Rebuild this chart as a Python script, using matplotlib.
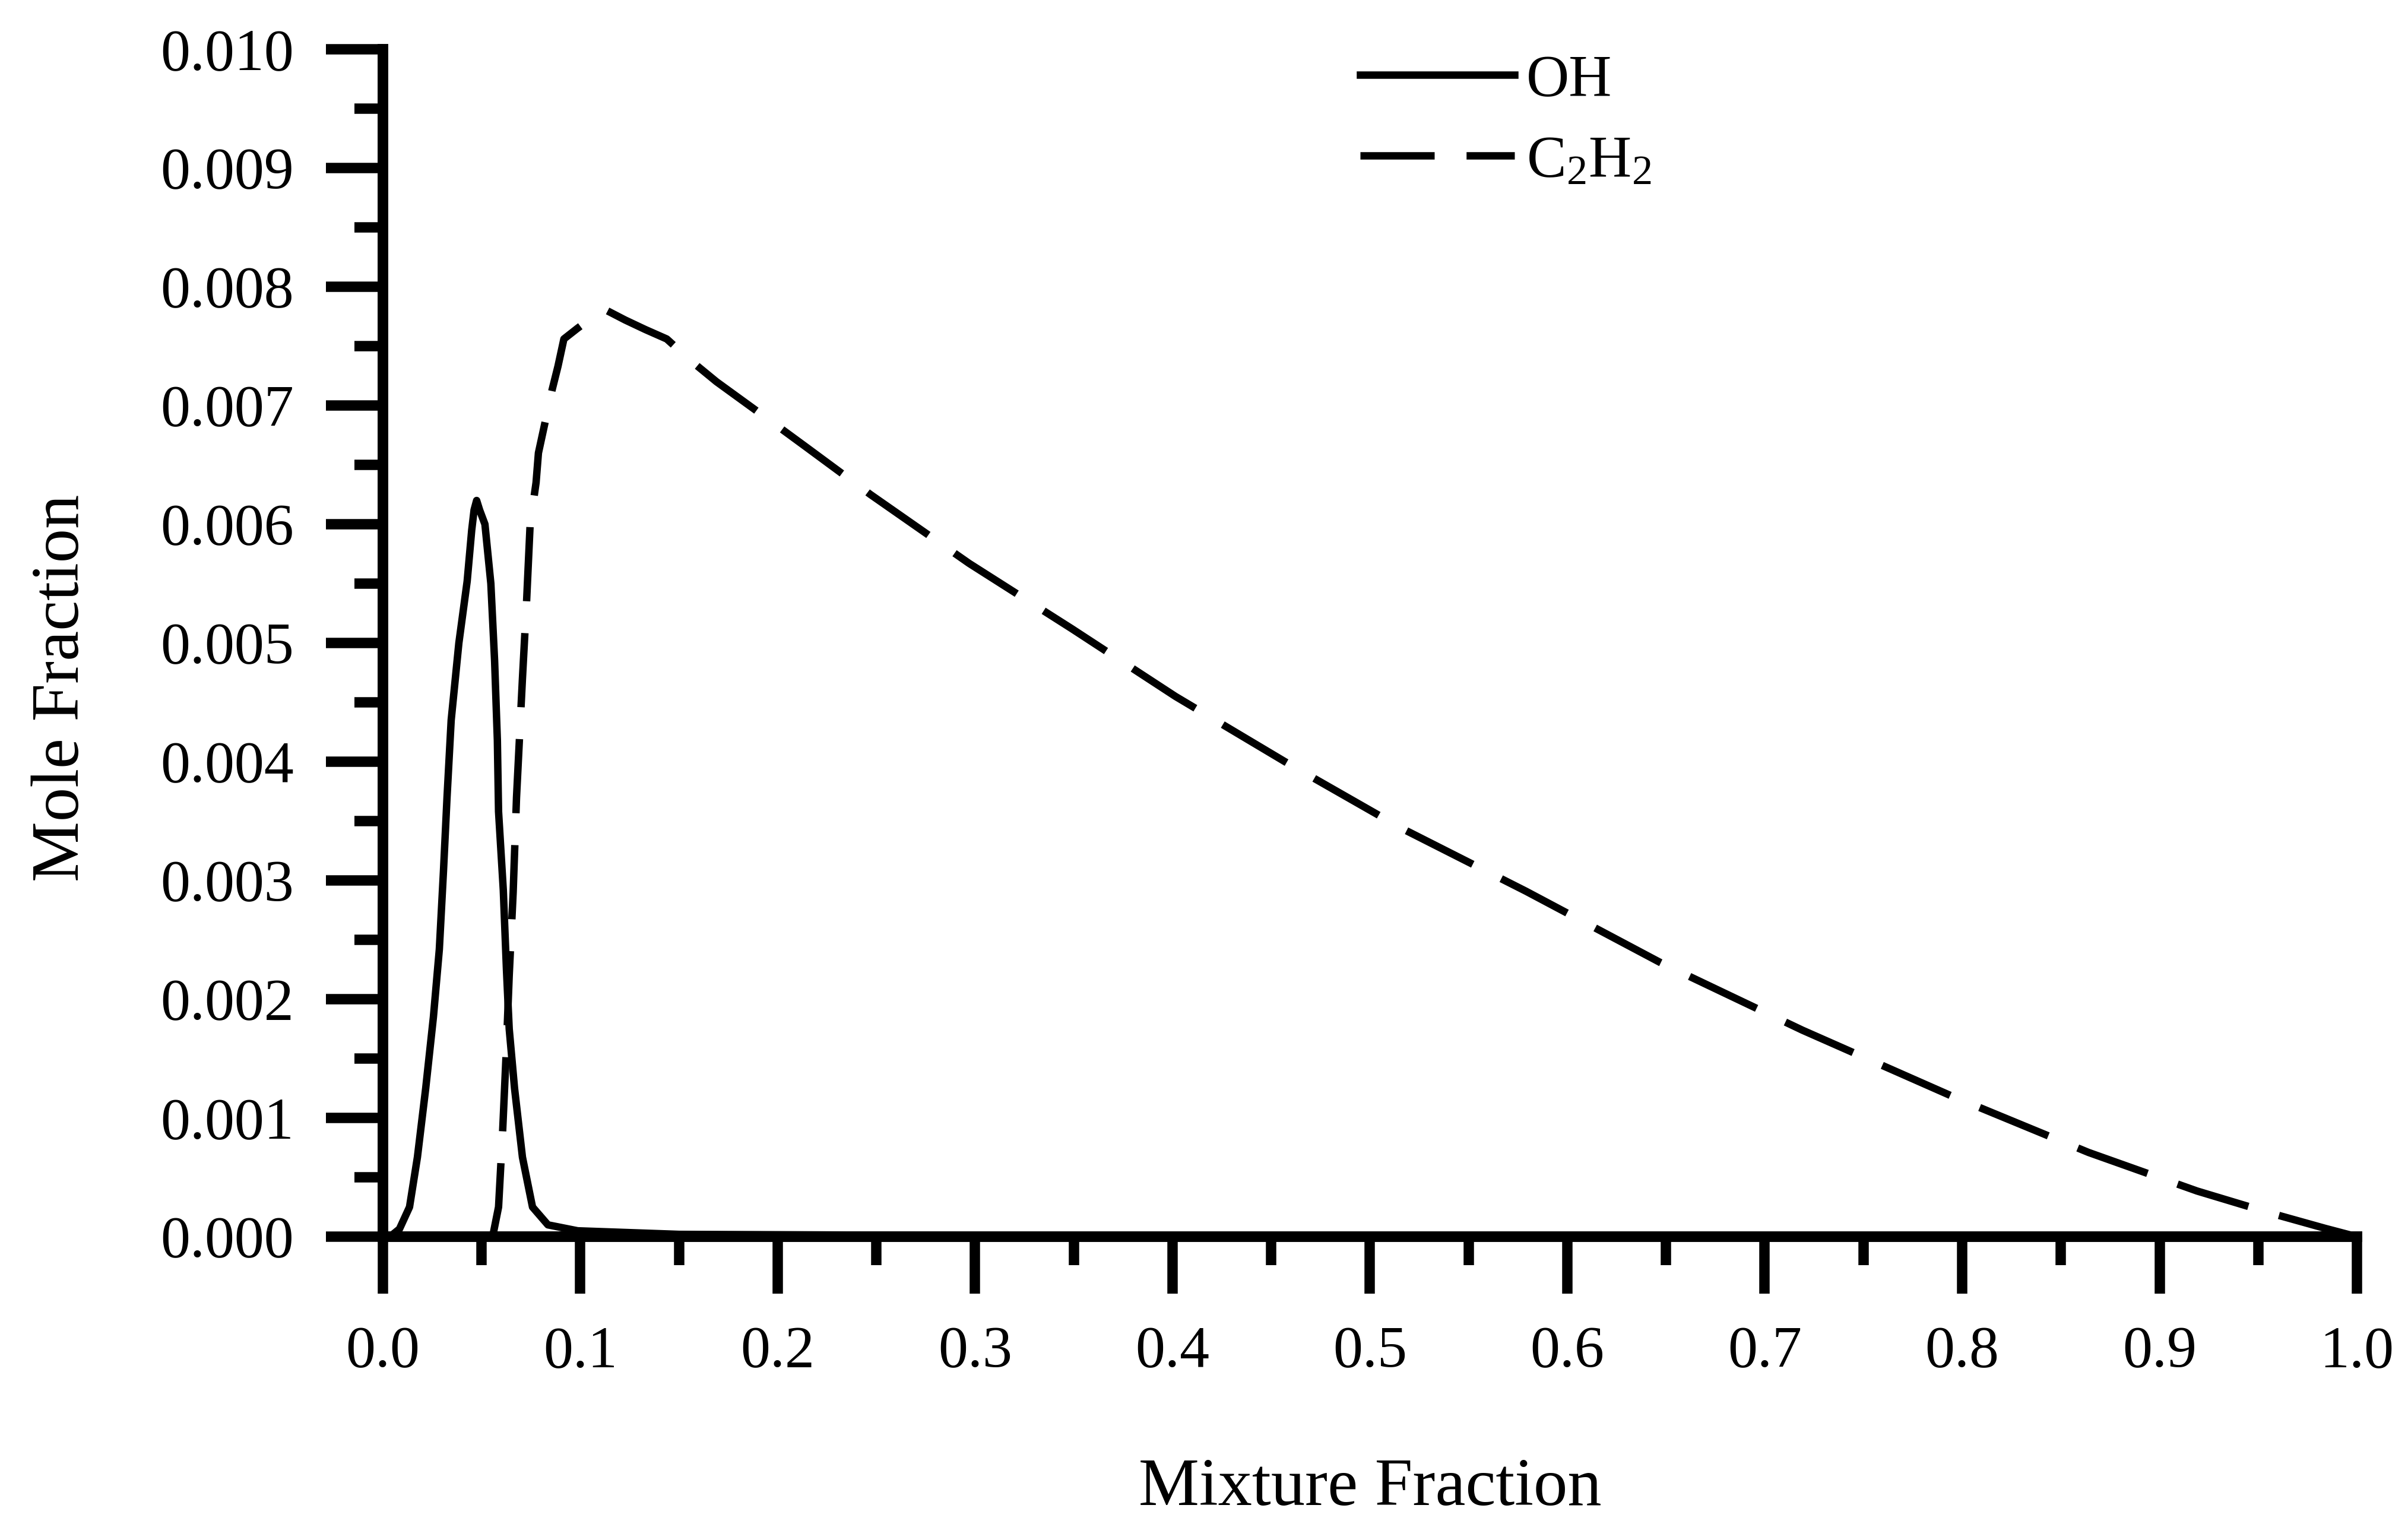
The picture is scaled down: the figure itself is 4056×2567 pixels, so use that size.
import matplotlib
matplotlib.use('Agg')
import matplotlib.pyplot as plt
from matplotlib.ticker import MultipleLocator, FormatStrFormatter

plt.rcParams['font.family'] = ['Liberation Serif', 'DejaVu Serif']
plt.rcParams['mathtext.fontset'] = 'custom'
plt.rcParams['mathtext.rm'] = 'Liberation Serif'

# OH mole fraction vs mixture fraction
oh_x = [0.0, 0.0036, 0.0084, 0.0135, 0.0175, 0.0217, 0.0256, 0.0286, 0.0307,
        0.0325, 0.0346, 0.0385, 0.0427, 0.045, 0.0462, 0.0475, 0.049, 0.0517,
        0.0547, 0.0566, 0.058, 0.0586, 0.061, 0.0626, 0.064, 0.0667, 0.0707,
        0.0758, 0.0836, 0.0987, 0.15, 0.3, 0.6, 1.0]
oh_y = [0.0, 0.0, 0.065, 0.25, 0.67, 1.25, 1.85, 2.42, 3.08,
        3.7, 4.35, 5.0, 5.52, 5.95, 6.12, 6.2, 6.12, 6.0,
        5.5, 4.85, 4.18, 3.58, 2.92, 2.25, 1.75, 1.25, 0.67,
        0.25, 0.1, 0.05, 0.02, 0.01, 0.0, 0.0]

# C2H2 mole fraction
c2h2_x = [0.0556, 0.0586, 0.0607, 0.0626, 0.064, 0.066, 0.0677, 0.0707, 0.0728,
          0.0746, 0.0776, 0.0788, 0.0857, 0.0887, 0.0917, 0.0986, 0.1059, 0.1134,
          0.1227, 0.1329, 0.1438, 0.1558, 0.169, 0.198, 0.2144, 0.247, 0.297,
          0.349, 0.4015, 0.457, 0.516, 0.579, 0.647, 0.719, 0.794, 0.864, 0.919,
          0.956, 0.984, 1.0]
c2h2_y = [0.0, 0.25, 0.9, 1.6, 2.2, 2.9, 3.7, 4.7, 5.35,
          6.0, 6.35, 6.6, 7.13, 7.33, 7.56, 7.65, 7.74, 7.8,
          7.72, 7.64, 7.56, 7.38, 7.2, 6.85, 6.65, 6.25, 5.67,
          5.12, 4.55, 4.0, 3.44, 2.91, 2.31, 1.74, 1.19, 0.71, 0.385,
          0.2, 0.07, 0.0]

oh_y = [v * 1e-3 for v in oh_y]
c2h2_y = [v * 1e-3 for v in c2h2_y]

fig = plt.figure(figsize=(13.52, 8.5567), dpi=300)
ax = fig.add_axes([0.159, 0.1885, 0.8198, 0.7792])

ax.plot(oh_x, oh_y, color='black', lw=3.0, label='OH', zorder=2)
ax.plot(c2h2_x, c2h2_y, color='black', lw=3.0, dashes=(10, 4.3),
        dash_capstyle='butt', label=r'$\mathregular{C_2H_2}$', zorder=2)

ax.set_xlim(0, 1.0)
ax.set_ylim(0, 0.010)

for s in ['top', 'right']:
    ax.spines[s].set_visible(False)
for s in ['left', 'bottom']:
    ax.spines[s].set_linewidth(4.3)
    ax.spines[s].set_zorder(3)

ax.xaxis.set_major_locator(MultipleLocator(0.1))
ax.xaxis.set_minor_locator(MultipleLocator(0.05))
ax.yaxis.set_major_locator(MultipleLocator(0.001))
ax.yaxis.set_minor_locator(MultipleLocator(0.0005))
ax.xaxis.set_major_formatter(FormatStrFormatter('%.1f'))
ax.yaxis.set_major_formatter(FormatStrFormatter('%.3f'))

ax.tick_params(which='major', direction='out', length=23, width=4.2,
               pad=13, labelsize=24)
ax.tick_params(which='minor', direction='out', length=11.5, width=4.2)

ax.set_xlabel('Mixture Fraction', fontsize=27.5)
ax.set_ylabel('Mole Fraction', fontsize=27.5)
ax.xaxis.set_label_coords(0.5, -0.186)
ax.yaxis.set_label_coords(-0.147, 0.462)

ax.legend(loc='upper left', bbox_to_anchor=(0.495, 0.996), frameon=False,
          fontsize=24, handlelength=2.6, handletextpad=0.2, borderpad=0,
          borderaxespad=0, labelspacing=0.45)

fig.savefig('out.png', dpi=300)
